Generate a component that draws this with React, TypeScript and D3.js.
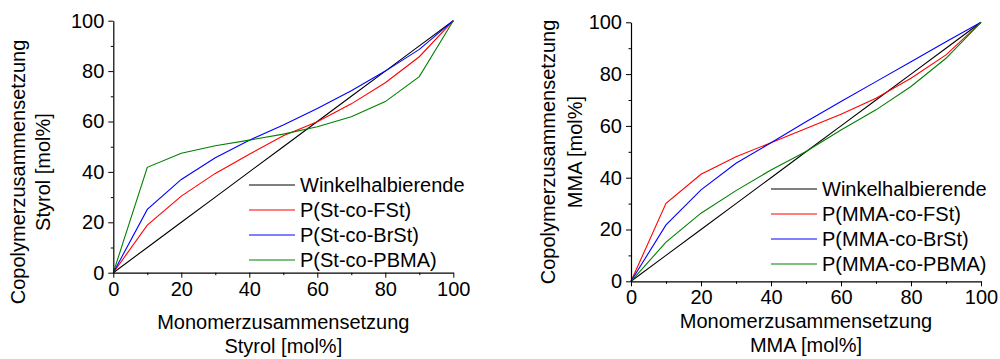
import React, { useEffect, useRef } from 'react';
import * as d3 from 'd3';

// composition of monomer feed (x, mol%)
const feed = [0, 10, 20, 30, 40, 50, 60, 70, 80, 90, 100];
const diagonal = [0, 10, 20, 30, 40, 50, 60, 70, 80, 90, 100];

// Styrol panel
const stFSt = [0, 18.9, 30.4, 39.4, 47, 54.3, 59.9, 67, 75.4, 85.7, 100];
const stBrSt = [0, 25.1, 37, 45.6, 52.6, 58.6, 65.2, 72.2, 80, 88.6, 100];
const stPBMA = [0, 41.8, 47.4, 50.4, 52.6, 55, 57.9, 61.9, 67.9, 77.8, 100];

// MMA panel
const mmaFSt = [0, 30.1, 41.3, 48.1, 53.5, 59, 64.5, 70.7, 78.4, 87.4, 100];
const mmaBrSt = [0, 21.8, 35.3, 45.6, 53.5, 61.6, 69.4, 77.1, 84.8, 92.5, 100];
const mmaPBMA = [0, 15.1, 26.3, 35, 43, 50.1, 58.4, 66.2, 75.2, 86.1, 100];

const majorTicks = [0, 20, 40, 60, 80, 100];
const minorTicks = [10, 30, 50, 70, 90];

const stLabels = ['Winkelhalbierende', 'P(St-co-FSt)', 'P(St-co-BrSt)', 'P(St-co-PBMA)'];
const mmaLabels = ['Winkelhalbierende', 'P(MMA-co-FSt)', 'P(MMA-co-BrSt)', 'P(MMA-co-PBMA)'];
const colors = ['#000000', '#ff0000', '#0000ff', '#008000'];

const FONT = '"Liberation Sans", Arial, sans-serif';

interface PanelCfg {
  x0: number;
  x1: number;
  yTop: number;
  yBottom: number;
  series: number[][];
  labels: string[];
  legendX: number;
  legendY: number;
  xTitle: string[];
  xTitleY: number[];
  yTitle: string[];
  yTitleX: number[];
  yTitleCenter: number;
}

const panels: PanelCfg[] = [
  {
    x0: 113.3, x1: 453.3, yTop: 20.7, yBottom: 272.7,
    series: [diagonal, stFSt, stBrSt, stPBMA],
    labels: stLabels,
    legendX: 249, legendY: 185,
    xTitle: ['Monomerzusammensetzung', 'Styrol [mol%]'],
    xTitleY: [329, 353],
    yTitle: ['Copolymerzusammensetzung', 'Styrol [mol%]'],
    yTitleX: [25, 50],
    yTitleCenter: 172,
  },
  {
    x0: 631, x1: 981, yTop: 22.3, yBottom: 281.3,
    series: [diagonal, mmaFSt, mmaBrSt, mmaPBMA],
    labels: mmaLabels,
    legendX: 771, legendY: 189,
    xTitle: ['Monomerzusammensetzung', 'MMA [mol%]'],
    xTitleY: [328, 352],
    yTitle: ['Copolymerzusammensetzung', 'MMA [mol%]'],
    yTitleX: [555, 582],
    yTitleCenter: 152,
  },
];

const App: React.FC = () => {
  const ref = useRef<SVGSVGElement | null>(null);

  useEffect(() => {
    if (!ref.current) return;
    const svg = d3.select<SVGSVGElement, unknown>(ref.current);
    svg.selectAll('*').remove();

    panels.forEach(p => {
      const x = d3.scaleLinear().domain([0, 100]).range([p.x0, p.x1]);
      const y = d3.scaleLinear().domain([0, 100]).range([p.yBottom, p.yTop]);
      const g = svg.append('g');

      const line = d3
        .line<number>()
        .x((_d: number, i: number) => x(feed[i]))
        .y((d: number) => y(d));

      p.series.forEach((s, i) => {
        g.append('path')
          .datum(s)
          .attr('fill', 'none')
          .attr('stroke', colors[i])
          .attr('stroke-width', 1.1)
          .attr('d', line as any);
      });

      // minor ticks
      g.append('g')
        .attr('transform', `translate(0,${p.yBottom})`)
        .call(d3.axisBottom(x).tickValues(minorTicks).tickSize(2.5).tickFormat(() => ''))
        .call(a => a.select('.domain').remove());
      g.append('g')
        .attr('transform', `translate(${p.x0},0)`)
        .call(d3.axisLeft(y).tickValues(minorTicks).tickSize(2.5).tickFormat(() => ''))
        .call(a => a.select('.domain').remove());

      const xa = g.append('g')
        .attr('transform', `translate(0,${p.yBottom})`)
        .call(d3.axisBottom(x).tickValues(majorTicks).tickSize(5).tickPadding(4).tickSizeOuter(0));
      const ya = g.append('g')
        .attr('transform', `translate(${p.x0},0)`)
        .call(d3.axisLeft(y).tickValues(majorTicks).tickSize(5).tickPadding(4).tickSizeOuter(0));
      [xa, ya].forEach(a => {
        a.selectAll('text').attr('fill', '#000').style('font-family', FONT).style('font-size', '20px');
        a.select('.domain').attr('stroke', '#000').attr('stroke-width', 1.2);
        a.selectAll('line').attr('stroke', '#000');
      });

      // legend
      const leg = g.append('g').attr('transform', `translate(${p.legendX},${p.legendY})`);
      p.labels.forEach((lab, i) => {
        const row = leg.append('g').attr('transform', `translate(0,${i * 25})`);
        row.append('line').attr('x1', 0).attr('x2', 46).attr('y1', 0).attr('y2', 0)
          .attr('stroke', colors[i]).attr('stroke-width', 1.1);
        row.append('text').attr('x', 51).attr('dy', '0.35em')
          .style('font-family', FONT).style('font-size', '20px').attr('fill', '#000').text(lab);
      });

      // axis titles
      const cx = (p.x0 + p.x1) / 2;
      p.xTitle.forEach((t, i) => {
        g.append('text').attr('x', cx).attr('y', p.xTitleY[i]).attr('text-anchor', 'middle')
          .style('font-family', FONT).style('font-size', '20px').attr('fill', '#000').text(t);
      });
      p.yTitle.forEach((t, i) => {
        g.append('text')
          .attr('transform', `translate(${p.yTitleX[i]},${p.yTitleCenter}) rotate(-90)`)
          .attr('text-anchor', 'middle')
          .style('font-family', FONT).style('font-size', '20px').attr('fill', '#000').text(t);
      });
    });
  }, []);

  return (
    <svg
      ref={ref}
      width={1000}
      height={359}
      style={{ position: 'absolute', left: 0, top: 0, background: '#fff' }}
    />
  );
};

export default App;
